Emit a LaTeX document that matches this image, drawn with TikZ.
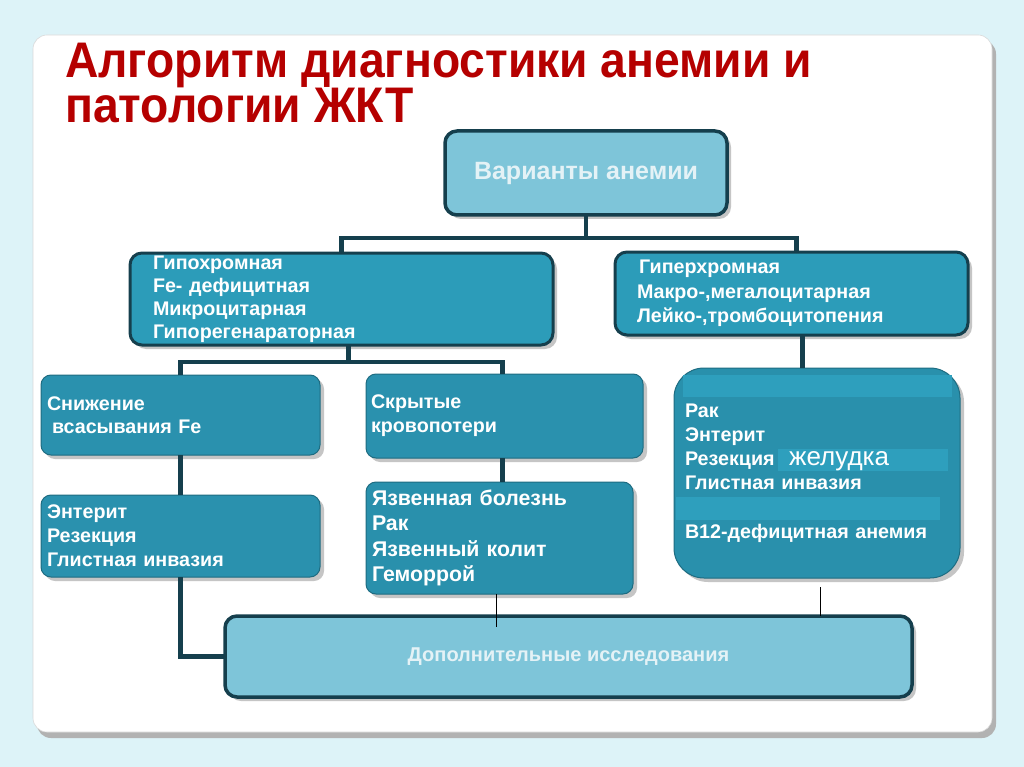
\documentclass[tikz,border=0pt]{standalone}
\usepackage{fontspec}
\setmainfont{Liberation Sans}
\usetikzlibrary{shadows,calc}
\definecolor{bg}{HTML}{DDF3F8}
\definecolor{lightb}{HTML}{7EC5D9}
\definecolor{darkb}{HTML}{153F4D}
\definecolor{teala}{HTML}{2C9CB9}
\definecolor{tealb}{HTML}{2A91AE}
\definecolor{tealc}{HTML}{2990AC}
\definecolor{tealedge}{HTML}{1E6C81}
\definecolor{strip}{HTML}{2E9FBD}
\definecolor{titlered}{HTML}{B50000}
\definecolor{paletext}{HTML}{E4F2F6}
\tikzset{
  shad/.style={drop shadow={shadow xshift=4pt,shadow yshift=-4pt,fill=black!45,opacity=0.5}},
  lvlone/.style={shad,fill=lightb,draw=darkb,line width=3.5pt,rounded corners=12pt,anchor=north west,
     text=paletext,font={\fontsize{25}{28}\selectfont\bfseries},inner sep=0pt,outer sep=0pt},
  lvltwo/.style={shad,fill=teala,draw=darkb,line width=3pt,rounded corners=12pt,anchor=north west,
     text=white,align=left,font={\fontsize{19.7}{23}\selectfont\bfseries},inner sep=0pt,outer sep=0pt},
  lvlthree/.style={shad,fill=tealb,draw=tealedge,line width=1pt,rounded corners=10pt,anchor=north west,
     text=white,align=left,font={\fontsize{19.7}{22.5}\selectfont\bfseries},inner sep=0pt,outer sep=0pt},
  conn/.style={draw=darkb,line width=4.5pt},
  thinline/.style={draw=black,line width=0.9pt},
  titlefont/.style={anchor=base west,text=titlered,align=left,font={\fontsize{50}{42}\selectfont\bfseries},inner sep=0pt},
}
\begin{document}
\begin{tikzpicture}[x=1pt,y=-1pt]
\useasboundingbox (0,0) rectangle (1024,767);
\fill[bg] (0,0) rectangle (1024,767);
% panel
\fill[black!30,rounded corners=14pt] (37,40) rectangle (996,738);
\fill[white,rounded corners=14pt] (33,35) rectangle (992,732);
\draw[black!15,line width=0.6pt,rounded corners=14pt] (33,35) rectangle (992,732);
% title
\node[titlefont] (title) at (65,123) {\scalebox{0.925}[1]{Алгоритм диагностики анемии и}\\\scalebox{0.925}[1]{патологии ЖКТ}};

% coordinates for junctions
\coordinate (j1) at (586,238);
\coordinate (j2) at (348,362);
\coordinate (t1) at (496,627);
\coordinate (t2) at (820,587);

% boxes
\node[lvlone,minimum width=282pt,minimum height=84pt] (box1) at (445,131) {Варианты анемии};
\node[lvltwo,minimum width=423pt,minimum height=92pt,text width=377pt] (box2) at (130,253)
  {Гипохромная\\Fe- дефицитная\\Микроцитарная\\Гипорегенараторная};
\node[lvltwo,minimum width=353pt,minimum height=83pt,text width=309pt,
  font={\fontsize{19.7}{24.5}\selectfont\bfseries}] (box3) at (615,252)
  {\hspace*{2pt}Гиперхромная\\Макро-,мегалоцитарная\\Лейко-,тромбоцитопения};
\node[lvlthree,minimum width=279pt,minimum height=80pt,text width=267pt] (box4) at (41,375)
  {Снижение\\\hspace*{5pt}всасывания Fe};
\node[lvlthree,minimum width=277pt,minimum height=84pt,text width=267pt,
  font={\fontsize{19.7}{24}\selectfont\bfseries}] (box5) at (366,374)
  {Скрытые\\кровопотери};
\node[lvlthree,minimum width=279pt,minimum height=82pt,text width=267pt,
  font={\fontsize{19.7}{24}\selectfont\bfseries}] (box6) at (41,495)
  {Энтерит\\Резекция\\Глистная инвазия};
\node[lvlthree,fill=tealc,minimum width=267pt,minimum height=112pt,text width=255pt,
  font={\fontsize{21.3}{25.5}\selectfont\bfseries}] (box7) at (366,482)
  {Язвенная болезнь\\Рак\\Язвенный колит\\Геморрой};
\node[lvlthree,fill=tealc,rounded corners=30pt,minimum width=286pt,minimum height=210pt,text width=264pt,
  font={\fontsize{19.7}{24.2}\selectfont\bfseries}] (box8) at (674,368)
  {Рак\\Энтерит\\Резекция\\Глистная инвазия\\\mbox{}\\B12-дефицитная анемия};
% lighter strips in box8
\fill[strip] (683,375) rectangle (952,397);
\fill[strip] (778,449) rectangle (948,471);
\fill[strip] (676,497) rectangle (940,520);
\node[anchor=west,text=white,font={\fontsize{26}{27}\selectfont},inner sep=0pt] (zhel) at (789,461) {желудка};
\node[lvlone,minimum width=687pt,minimum height=81pt,font={\fontsize{20}{22}\selectfont\bfseries}] (box9) at (225,616)
  {Дополнительные исследования};

% connectors
\draw[conn] (box1.south) -- (box1.south |- j1);
\draw[conn] (box2.north) |- (j1) -| ([xshift=5pt]box3.north);
\draw[conn] ([xshift=7pt]box2.south) -- ([xshift=7pt]box2.south |- j2);
\draw[conn] (box4.north) |- (j2) -| ([xshift=-2pt]box5.north);
\draw[conn] (box4.south) -- (box6.north);
\draw[conn] ([xshift=-2pt]box5.south) -- ([xshift=-2pt]box5.south |- box7.north);
\draw[conn] (box6.south) |- (box9.west);
\draw[conn] ([xshift=11pt]box3.south) -- ([xshift=11pt]box3.south |- box8.north);
\draw[thinline] (box7.south -| t1) -- (t1);
\draw[thinline] (t2) -- (t2 |- box9.north);
\end{tikzpicture}
\end{document}
